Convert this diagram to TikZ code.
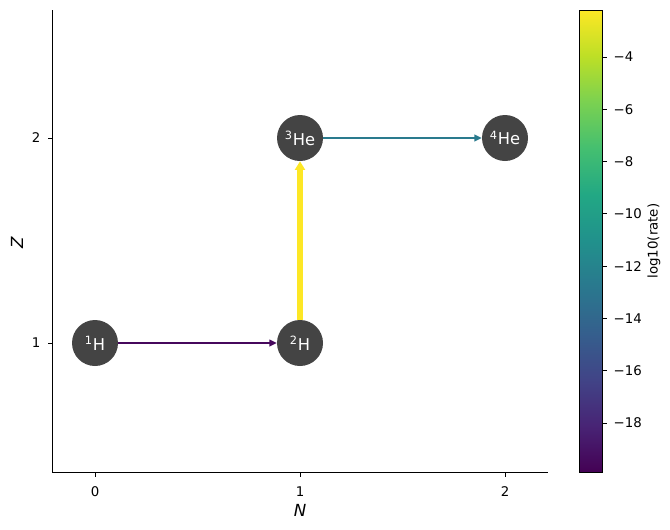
\documentclass[tikz,border=0pt]{standalone}
\usepackage{fontspec}
\setmainfont{DejaVu Sans}
\usetikzlibrary{arrows.meta}

\definecolor{nucgray}{HTML}{444444}
\definecolor{vir0}{HTML}{440154}
\definecolor{vir1}{HTML}{482475}
\definecolor{vir2}{HTML}{414487}
\definecolor{vir3}{HTML}{355F8D}
\definecolor{vir4}{HTML}{2A788E}
\definecolor{vir5}{HTML}{21918C}
\definecolor{vir6}{HTML}{22A884}
\definecolor{vir7}{HTML}{44BF70}
\definecolor{vir8}{HTML}{7AD151}
\definecolor{vir9}{HTML}{BDDF26}
\definecolor{vir10}{HTML}{FDE725}
\definecolor{ratelow}{HTML}{46085C}
\definecolor{ratemid}{HTML}{2A7B8E}
\definecolor{ratehigh}{HTML}{FDE725}

\pgfdeclareverticalshading{viridis}{100bp}{color(0bp)=(vir0); color(25bp)=(vir0);
  color(30bp)=(vir1); color(35bp)=(vir2); color(40bp)=(vir3); color(45bp)=(vir4);
  color(50bp)=(vir5); color(55bp)=(vir6); color(60bp)=(vir7); color(65bp)=(vir8);
  color(70bp)=(vir9); color(75bp)=(vir10); color(100bp)=(vir10)}

\begin{document}
\begin{tikzpicture}[
    x=0.75pt, y=-0.75pt,
    nucnode/.style={circle, fill=nucgray, inner sep=0pt, minimum size=34.5pt,
        text=white, font=\fontsize{12.2}{14}\selectfont},
    rateedge/.style={-{Triangle[length=5.5pt, width=5pt]}},
    spine/.style={line width=0.6pt, black},
    tickmark/.style={line width=0.6pt, black},
    ticklabel/.style={font=\fontsize{10}{12}\selectfont},
    axislabel/.style={font=\fontsize{12.5}{14}\selectfont\itshape},
]
    \useasboundingbox (0,0) rectangle (670,529);

    % axes
    \draw[spine] (52.5,10) -- (52.5,472) -- (548,472);
    \foreach \n/\px in {0/95, 1/300, 2/505} {
        \draw[tickmark] (\px,472) -- (\px,477);
        \node[ticklabel] (xt\n) at (\px,492) {\n};
    }
    \foreach \z/\py in {1/343, 2/138} {
        \draw[tickmark] (52.5,\py) -- (47.6,\py);
        \node[ticklabel, anchor=east] (yt\z) at (45,\py) {\z};
    }
    \node[axislabel] (nlabel) at (300,510) {N};
    \node[axislabel, rotate=90] (zlabel) at (17,243) {Z};

    % nuclei
    \node[nucnode] (h1) at (95,343) {\textsuperscript{1}H};
    \node[nucnode] (h2) at (300,343) {\textsuperscript{2}H};
    \node[nucnode] (he3) at (300,138) {\textsuperscript{3}He};
    \node[nucnode] (he4) at (505,138) {\textsuperscript{4}He};

    % rates
    \draw[rateedge, draw=ratelow, fill=ratelow, line width=1.1pt] (h1) -- (h2);
    \draw[rateedge, draw=ratemid, fill=ratemid, line width=1.5pt] (he3) -- (he4);
    \draw[-{Triangle[length=6.5pt, width=7.5pt]}, draw=ratehigh, fill=ratehigh,
        line width=3.8pt] (h2) -- (he3);

    % colorbar
    \shade[shading=viridis] (579,10) rectangle (602.5,472);
    \draw[spine] (579,10) rectangle (602.5,472);
    \foreach \v in {4,6,...,18} {
        \pgfmathsetmacro\cy{57+(\v-4)*26.14}
        \draw[tickmark] (602.5,\cy) -- (607.4,\cy);
        \node[ticklabel, anchor=west] (cb\v) at (609,\cy) {−\v};
    }
    \node[font=\fontsize{10}{12}\selectfont, rotate=90] (cblabel) at (654,241) {log10(rate)};
\end{tikzpicture}
\end{document}
